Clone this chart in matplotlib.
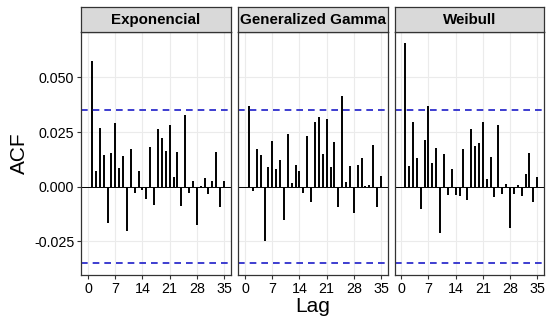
import numpy as np
import matplotlib
matplotlib.use('Agg')
import matplotlib.pyplot as plt

plt.rcParams['font.family'] = ['Liberation Sans', 'DejaVu Sans']
plt.rcParams['axes.unicode_minus'] = False

# datos
lags = np.arange(1, 36)
panels = ['Exponencial', 'Generalized Gamma', 'Weibull']

acf_exp = [0.0573, 0.0070, 0.0268, 0.0144, -0.0164, 0.0154, 0.0291, 0.0086, 0.0141, -0.0203,
           0.0173, -0.0029, 0.0070, -0.0017, -0.0058, 0.0180, -0.0086, 0.0263, 0.0223, 0.0165,
           0.0284, 0.0044, 0.0157, -0.0087, 0.0326, -0.0029, 0.0028, -0.0174, 0.0003, 0.0039,
           -0.0034, 0.0026, 0.0158, -0.0091, 0.0028]
acf_gg = [0.0368, -0.0021, 0.0173, 0.0144, -0.0249, 0.0092, 0.0211, 0.0083, 0.0122, -0.0153,
          0.0239, 0.0018, 0.0099, 0.0070, -0.0028, 0.0232, -0.0070, 0.0295, 0.0321, 0.0148,
          0.0310, 0.0090, 0.0205, -0.0095, 0.0416, 0.0020, 0.0095, -0.0119, 0.0098, 0.0130,
          0.0003, 0.0008, 0.0191, -0.0091, 0.0047]
acf_wei = [0.0657, 0.0093, 0.0295, 0.0130, -0.0104, 0.0213, 0.0368, 0.0107, 0.0177, -0.0214,
           0.0148, -0.0038, 0.0080, -0.0037, -0.0044, 0.0171, -0.0063, 0.0265, 0.0188, 0.0202,
           0.0298, 0.0035, 0.0138, -0.0046, 0.0284, -0.0035, 0.0013, -0.0187, -0.0033, 0.0006,
           -0.0042, 0.0057, 0.0153, -0.0068, 0.0045]
series = [acf_exp, acf_gg, acf_wei]

ci = 0.0351
yticks = [-0.025, 0.0, 0.025, 0.050]
xticks = [0, 7, 14, 21, 28, 35]

W, H = 550, 323
fig = plt.figure(figsize=(W / 100, H / 100), dpi=100)

lefts = [81.3, 238.3, 394.5]
pw = 149.5
bottom, top = 274.8, 31.7
strip_top = 7.3

for i, (name, vals) in enumerate(zip(panels, series)):
    ax = fig.add_axes([lefts[i] / W, 1 - bottom / H, pw / W, (bottom - top) / H])
    ax.set_xlim(-1.75, 36.75)
    ax.set_ylim(-0.0403, 0.0709)
    ax.set_xticks(xticks)
    ax.set_yticks(yticks)
    ax.grid(True, color='#EBEBEB', lw=0.8)
    ax.set_axisbelow(True)
    ax.axhline(0, color='black', lw=0.7)
    ax.vlines(lags, 0, vals, color='black', lw=1.4)
    ax.axhline(ci, color='#1c1cc8', lw=1.2, ls=(0, (4, 3)))
    ax.axhline(-ci, color='#1c1cc8', lw=1.2, ls=(0, (4, 3)))
    for s in ax.spines.values():
        s.set_color('#333333')
        s.set_linewidth(0.9)
    ax.tick_params(length=3, width=0.8, color='#333333', labelsize=10.3, pad=2,
                   labelcolor='black')
    if i == 0:
        ax.set_yticklabels(['%.3f' % v for v in yticks])
        ax.set_ylabel('ACF', fontsize=15, labelpad=4)
    else:
        ax.tick_params(axis='y', labelleft=False, length=0)
    if i == 1:
        ax.set_xlabel('Lag', fontsize=15, labelpad=1)

    # franja del titulo
    sx = fig.add_axes([lefts[i] / W, 1 - top / H, pw / W, (top - strip_top) / H])
    sx.set_facecolor('#D9D9D9')
    sx.set_xticks([])
    sx.set_yticks([])
    for s in sx.spines.values():
        s.set_color('#333333')
        s.set_linewidth(0.9)
    sx.text(0.5, 0.48, name, ha='center', va='center', fontsize=10.9,
            fontweight='bold', transform=sx.transAxes)

fig.savefig('out.png', dpi=100)
